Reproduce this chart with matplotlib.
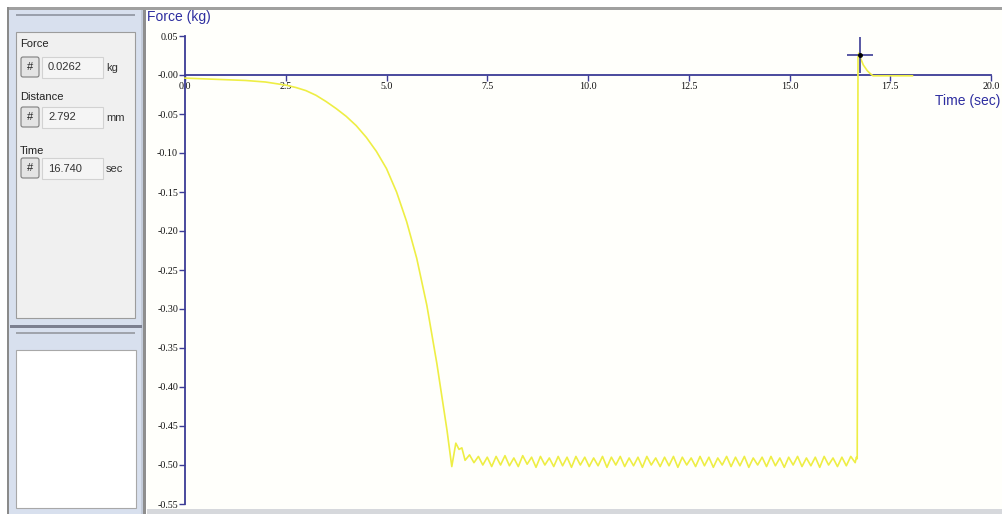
import matplotlib
matplotlib.use("Agg")
import matplotlib.pyplot as plt
from matplotlib.patches import Rectangle, FancyBboxPatch
from matplotlib import font_manager

# ---------------- data ----------------
time_decay = [0.0, 0.5, 1.0, 1.5, 2.0, 2.5, 2.75, 3.0, 3.25, 3.5, 3.75, 4.0, 4.25,
              4.5, 4.75, 5.0, 5.25, 5.5, 5.75, 6.0, 6.25, 6.5, 6.62, 6.72, 6.80, 6.87]
force_decay = [-0.004, -0.005, -0.006, -0.007, -0.009, -0.013, -0.016, -0.020, -0.026,
               -0.034, -0.043, -0.053, -0.065, -0.080, -0.098, -0.120, -0.150, -0.188,
               -0.235, -0.295, -0.370, -0.455, -0.502, -0.472, -0.480, -0.478]

time_plateau = [6.95, 7.06, 7.17, 7.28, 7.39, 7.50, 7.61, 7.72, 7.83, 7.94, 8.05, 8.16,
                8.27, 8.38, 8.49, 8.60, 8.71, 8.82, 8.93, 9.04, 9.15, 9.26, 9.37, 9.48,
                9.59, 9.70, 9.81, 9.92, 10.03, 10.14, 10.25, 10.36, 10.47, 10.58, 10.69,
                10.80, 10.91, 11.02, 11.13, 11.24, 11.35, 11.46, 11.57, 11.68, 11.79,
                11.90, 12.01, 12.12, 12.23, 12.34, 12.45, 12.56, 12.67, 12.78, 12.89,
                13.00, 13.11, 13.22, 13.33, 13.44, 13.55, 13.66, 13.77, 13.88, 13.99,
                14.10, 14.21, 14.32, 14.43, 14.54, 14.65, 14.76, 14.87, 14.98, 15.09,
                15.20, 15.31, 15.42, 15.53, 15.64, 15.75, 15.86, 15.97, 16.08, 16.19,
                16.30, 16.41, 16.52, 16.63]
force_plateau = [-0.494, -0.487, -0.497, -0.489, -0.500, -0.490, -0.502, -0.489, -0.500,
                 -0.488, -0.501, -0.491, -0.502, -0.488, -0.499, -0.490, -0.503, -0.489,
                 -0.500, -0.491, -0.502, -0.489, -0.501, -0.490, -0.503, -0.489, -0.500,
                 -0.490, -0.502, -0.491, -0.501, -0.489, -0.503, -0.490, -0.500, -0.489,
                 -0.502, -0.491, -0.501, -0.490, -0.503, -0.489, -0.500, -0.491, -0.502,
                 -0.490, -0.501, -0.489, -0.503, -0.490, -0.500, -0.491, -0.502, -0.489,
                 -0.501, -0.490, -0.503, -0.491, -0.500, -0.489, -0.502, -0.490, -0.501,
                 -0.489, -0.503, -0.491, -0.500, -0.490, -0.502, -0.489, -0.501, -0.491,
                 -0.503, -0.490, -0.500, -0.489, -0.502, -0.491, -0.501, -0.490, -0.503,
                 -0.489, -0.500, -0.491, -0.502, -0.490, -0.501, -0.489, -0.497]

time_release = [16.66, 16.68, 16.70, 16.72, 16.76, 16.83, 16.93, 17.00, 17.07, 18.05]
force_release = [-0.490, -0.492, 0.024, 0.028, 0.022, 0.013, 0.0055, 0.002, -0.001, -0.001]

cursor_time = 16.740
cursor_force = 0.0262
cursor_distance = 2.792

x_ticks = [0.0, 2.5, 5.0, 7.5, 10.0, 12.5, 15.0, 17.5, 20.0]
x_tick_labels = ["0.0", "2.5", "5.0", "7.5", "10.0", "12.5", "15.0", "17.5", "20.0"]
y_ticks = [0.05, 0.0, -0.05, -0.10, -0.15, -0.20, -0.25, -0.30, -0.35, -0.40,
           -0.45, -0.50, -0.55]
y_tick_labels = ["0.05", "-0.00", "-0.05", "-0.10", "-0.15", "-0.20", "-0.25", "-0.30",
                 "-0.35", "-0.40", "-0.45", "-0.50", "-0.55"]

# ---------------- fonts ----------------
available = {f.name for f in font_manager.fontManager.ttflist}
narrow = "Liberation Sans Narrow" if "Liberation Sans Narrow" in available else "Liberation Sans"
serif = "Liberation Serif" if "Liberation Serif" in available else "DejaVu Serif"

# ---------------- figure ----------------
W, H = 1003, 514
fig = plt.figure(figsize=(W / 100, H / 100), dpi=100)
fig.patch.set_facecolor("white")
bg = fig.add_axes([0, 0, 1, 1])
bg.set_xlim(0, W)
bg.set_ylim(H, 0)
bg.axis("off")


def rect(x0, y0, x1, y1, fc, ec="none", lw=0.0, z=1):
    bg.add_patch(Rectangle((x0, y0), x1 - x0, y1 - y0, facecolor=fc,
                           edgecolor=ec, linewidth=lw, zorder=z))


# window chrome
rect(7, 7, W, 10, "#a0a0a0")
rect(7, 7, 9, H, "#8a8a8a")
rect(9, 10, 141, H, "#d8e0ee")
rect(141, 10, 143, H, "#c4ccda")
rect(143, 10, 146, H, "#8e8e8e")
rect(147, 10, W, 509, "#fffffb")
rect(147, 509, W, H, "#d6d8dc")
rect(16, 14, 135, 15.5, "#9aa0ac")
rect(16, 32, 135, 318, "#f0f0f0", ec="#9c9c9c", lw=0.8)
rect(10, 325, 142, 328, "#7c8090")
rect(16, 332, 135, 333.5, "#a0a4ac")
rect(16, 350, 136, 508, "#ffffff", ec="#a8a8a8", lw=0.8)

# left panel readouts
panel_rows = [("Force", cursor_force, "{:.4f}", "kg", 44, 57),
              ("Distance", cursor_distance, "{:.3f}", "mm", 97, 107),
              ("Time", cursor_time, "{:.3f}", "sec", 151, 158)]
for label, val, fmt, unit, ly, by in panel_rows:
    bg.text(20, ly, label, fontsize=8, family=narrow, color="#222222",
            va="center", ha="left", zorder=3)
    bg.add_patch(FancyBboxPatch((21, by), 18, 20, boxstyle="round,pad=0,rounding_size=2",
                                facecolor="#e4e4e4", edgecolor="#7e7e7e",
                                linewidth=0.8, zorder=2))
    bg.text(30, by + 10, "#", fontsize=8, family=narrow, color="#222222",
            va="center", ha="center", zorder=3)
    rect(42, by, 103, by + 21, "#f5f5f5", ec="#d2d2d2", lw=0.8, z=2)
    bg.text(48, by + 10.5, fmt.format(val), fontsize=8, family=narrow,
            color="#333333", va="center", ha="left", zorder=3)
    bg.text(106, by + 11, unit, fontsize=8, family=narrow, color="#333333",
            va="center", ha="left", zorder=3)

axis_col = "#3c3c96"
bg.text(147, 17, "Force (kg)", fontsize=10, family=narrow, color="#2e2ea0",
        va="center", ha="left", zorder=3)
bg.text(1000, 101, "Time (sec)", fontsize=10, family=narrow, color="#2e2ea0",
        va="center", ha="right", zorder=3)

# ---------------- main plot ----------------
ax = fig.add_axes([185 / W, (H - 504) / H, (991 - 185) / W, (504 - 36) / H])
ax.patch.set_alpha(0)
ax.set_xlim(0, 20)
ax.set_ylim(-0.55, 0.05)
for s in ("top", "right"):
    ax.spines[s].set_visible(False)
ax.spines["left"].set_color(axis_col)
ax.spines["left"].set_linewidth(1.3)
ax.spines["bottom"].set_position(("data", 0))
ax.spines["bottom"].set_color(axis_col)
ax.spines["bottom"].set_linewidth(1.3)

ax.set_xticks(x_ticks)
ax.set_xticklabels(x_tick_labels, family=serif)
ax.set_yticks(y_ticks)
ax.set_yticklabels(y_tick_labels, family=serif)
ax.tick_params(axis="both", direction="out", length=4, width=1, color=axis_col,
               pad=1, labelsize=7.2, labelcolor="#111111")

t_all = time_decay + time_plateau + time_release
f_all = force_decay + force_plateau + force_release
ax.plot(t_all, f_all, color="#eeee44", lw=1.2, zorder=3, clip_on=False)

# cursor crosshair
ax.plot([cursor_time], [cursor_force], marker="|", ms=26, mew=1.2,
        color=axis_col, zorder=4, clip_on=False)
ax.plot([cursor_time], [cursor_force], marker="_", ms=19, mew=1.2,
        color=axis_col, zorder=4, clip_on=False)
ax.plot([cursor_time], [cursor_force], marker="o", ms=2.5, color="black",
        zorder=5, clip_on=False)

fig.savefig("out.png", dpi=100)
